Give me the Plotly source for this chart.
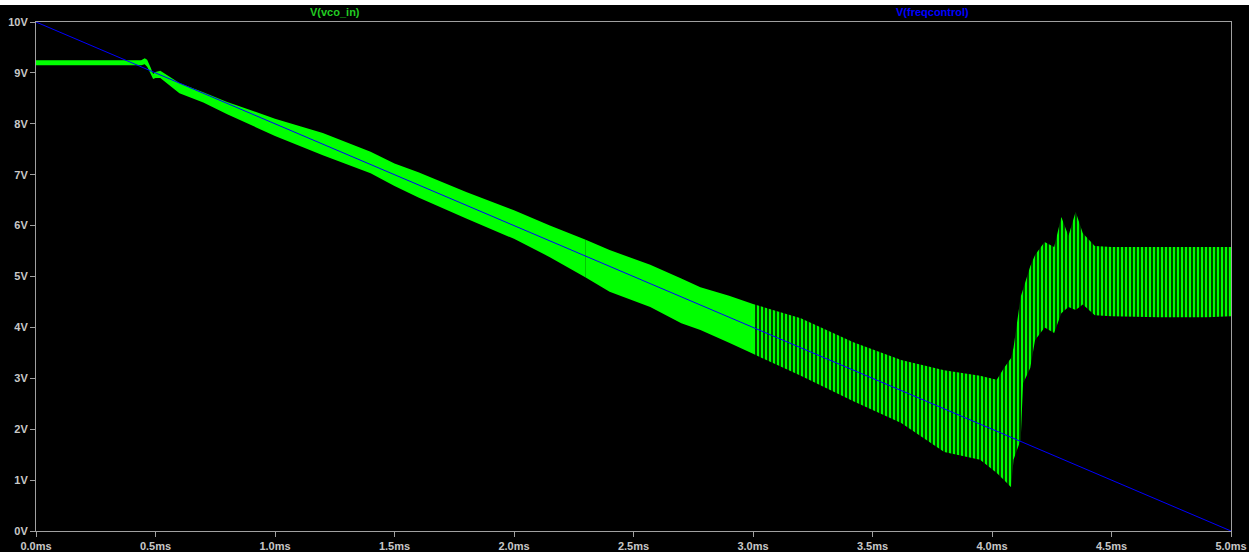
import plotly.graph_objects as go

# ---- data ----
# V(freqcontrol): linear ramp
t_ctrl = [0.0, 5.0]
v_ctrl = [10.0, 0.0]

# V(vco_in) envelope (upper / lower extremes of the oscillation), per region
t_a = [0.00, 0.44, 0.455, 0.465, 0.48, 0.49, 0.50, 0.52, 0.60, 0.70, 0.80, 1.00, 1.20, 1.40, 1.50, 1.60, 1.80, 2.00, 2.15, 2.30]
up_a = [9.25, 9.25, 9.29, 9.26, 9.10, 8.98, 9.02, 9.04, 8.80, 8.62, 8.43, 8.10, 7.82, 7.45, 7.22, 7.05, 6.66, 6.30, 6.00, 5.72]
lo_a = [9.15, 9.15, 9.17, 9.12, 8.98, 8.88, 8.90, 8.90, 8.60, 8.42, 8.19, 7.76, 7.38, 7.03, 6.78, 6.55, 6.14, 5.74, 5.38, 4.98]

t_b = [2.30, 2.40, 2.57, 2.70, 2.78, 2.90, 3.00]
up_b = [5.72, 5.52, 5.23, 4.96, 4.79, 4.62, 4.46]
lo_b = [4.98, 4.70, 4.40, 4.08, 3.95, 3.70, 3.48]

t_c = [3.00, 3.20, 3.42, 3.62, 3.80, 3.95, 4.02, 4.05, 4.08, 4.09, 4.12]
up_c = [4.46, 4.18, 3.71, 3.36, 3.16, 3.05, 2.97, 3.20, 3.40, 3.60, 4.60]
lo_c = [3.48, 3.05, 2.55, 2.12, 1.55, 1.40, 1.14, 1.00, 0.86, 1.40, 1.79]

t_d = [4.12, 4.13, 4.16, 4.18, 4.22, 4.26, 4.29, 4.32, 4.35, 4.38, 4.43, 4.50, 4.70, 4.90, 5.00]
up_d = [4.60, 4.75, 5.20, 5.42, 5.68, 5.58, 6.17, 5.80, 6.27, 5.85, 5.60, 5.58, 5.58, 5.58, 5.58]
lo_d = [1.79, 2.90, 3.20, 3.75, 4.00, 3.89, 4.28, 4.40, 4.34, 4.45, 4.24, 4.22, 4.20, 4.20, 4.22]

x_ticks = [0.0, 0.5, 1.0, 1.5, 2.0, 2.5, 3.0, 3.5, 4.0, 4.5, 5.0]
y_ticks = [0, 1, 2, 3, 4, 5, 6, 7, 8, 9, 10]

GREEN = "#00ff00"
BLUE = "#0000ff"
AXIS = "#a0a0a0"
LABEL = "#c8c8c8"


def band(t, up, lo, **kw):
    xs = list(t) + list(reversed(t))
    ys = list(up) + list(reversed(lo))
    return go.Scatter(x=xs, y=ys, mode="none", fill="toself", hoverinfo="skip",
                      showlegend=False, **kw)


pattern = dict(shape="|", size=4, solidity=0.5, fgcolor=GREEN, fgopacity=1,
               bgcolor="#004400", fillmode="replace")

fig = go.Figure()
fig.add_trace(band(t_a, up_a, lo_a, fillcolor=GREEN))
fig.add_trace(band(t_b, up_b, lo_b, fillcolor=GREEN))
fig.add_trace(band(t_c, up_c, lo_c, fillcolor=GREEN, fillpattern=pattern))
fig.add_trace(band(t_d, up_d, lo_d, fillcolor=GREEN, fillpattern=pattern))
fig.add_trace(go.Scatter(x=t_ctrl, y=v_ctrl, mode="lines",
                         line=dict(color=BLUE, width=1), showlegend=False,
                         name="V(freqcontrol)"))

font = dict(family="Liberation Sans, Arial, sans-serif", size=11, color=LABEL, weight="bold")

fig.update_layout(
    width=1249, height=552,
    margin=dict(l=36, r=18, t=22, b=21, autoexpand=False),
    paper_bgcolor="black", plot_bgcolor="black",
    font=font,
    showlegend=False,
    xaxis=dict(range=[0, 5], tickvals=x_ticks,
               ticktext=[f"{v:.1f}ms" for v in x_ticks],
               showgrid=False, zeroline=False, showline=True, linecolor=AXIS,
               linewidth=1, mirror=True, ticks="outside", ticklen=5,
               tickcolor=AXIS, tickfont=font, automargin=False),
    yaxis=dict(range=[0, 10], tickvals=y_ticks,
               ticktext=[f"{v}V" for v in y_ticks],
               showgrid=False, zeroline=False, showline=True, linecolor=AXIS,
               linewidth=1, mirror=True, ticks="outside", ticklen=5,
               tickcolor=AXIS, tickfont=font, automargin=False),
    shapes=[dict(type="rect", xref="paper", yref="paper",
                 x0=-0.05, x1=1.05, y0=1.0334, y1=1.06,
                 fillcolor="white", line=dict(width=0), layer="above")],
    annotations=[
        dict(text="V(vco_in)", xref="paper", yref="paper", x=0.250, y=1.0196,
             showarrow=False, xanchor="center", yanchor="middle",
             font=dict(family="Liberation Sans, Arial, sans-serif", size=11,
                       color="#22cc22", weight="bold")),
        dict(text="V(freqcontrol)", xref="paper", yref="paper", x=0.7506, y=1.0196,
             showarrow=False, xanchor="center", yanchor="middle",
             font=dict(family="Liberation Sans, Arial, sans-serif", size=11,
                       color=BLUE, weight="bold")),
    ],
)

fig.write_html("out.html")
